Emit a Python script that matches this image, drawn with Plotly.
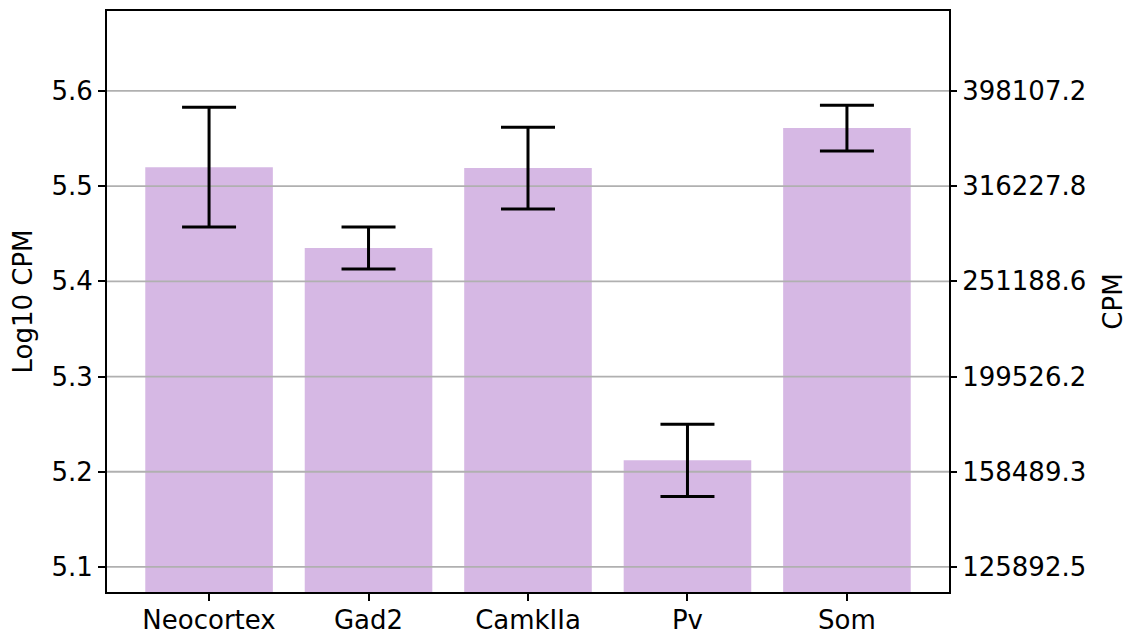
import plotly.graph_objects as go

# ---- data ----
categories = ["Neocortex", "Gad2", "CamkIIa", "Pv", "Som"]
log10_cpm = [5.520, 5.435, 5.519, 5.212, 5.561]
errors = [0.063, 0.022, 0.043, 0.038, 0.024]
y_ticks = [5.1, 5.2, 5.3, 5.4, 5.5, 5.6]
left_tick_labels = [f"{v:.1f}" for v in y_ticks]
cpm_tick_labels = [f"{10 ** v:.1f}" for v in y_ticks]

x_idx = list(range(len(categories)))
bar_w = 0.8
span = (len(categories) - 1) + bar_w
x_range = [-bar_w / 2 - 0.05 * span, (len(categories) - 1) + bar_w / 2 + 0.05 * span]
y_range = [5.0737, 5.684]

FONT = "DejaVu Sans"
FS = 26
BAR_COLOR = "#d6b8e4"
GRID_COLOR = "#b0b0b0"

fig = go.Figure()

# bars
fig.add_trace(go.Bar(
    x=x_idx, y=log10_cpm, width=bar_w,
    marker=dict(color=BAR_COLOR, line=dict(width=0)),
    hoverinfo="skip", showlegend=False,
    xaxis="x", yaxis="y",
))

# horizontal grid lines drawn above the bars (like matplotlib here)
gx, gy = [], []
for v in y_ticks:
    gx += [x_range[0], x_range[1], None]
    gy += [v, v, None]
fig.add_trace(go.Scatter(
    x=gx, y=gy, mode="lines",
    line=dict(color=GRID_COLOR, width=1.8),
    hoverinfo="skip", showlegend=False,
    xaxis="x", yaxis="y2",
))

# error bars on top of grid lines
fig.add_trace(go.Scatter(
    x=x_idx, y=log10_cpm, mode="markers",
    marker=dict(size=1, color="rgba(0,0,0,0)"),
    error_y=dict(type="data", array=errors, visible=True,
                 color="black", thickness=3, width=27),
    hoverinfo="skip", showlegend=False,
    xaxis="x", yaxis="y2",
))

axis_font = dict(family=FONT, size=FS, color="black")

# the page adds an 8px body margin, so the figure is sized/offset to compensate
fig.update_layout(
    width=1123, height=626,
    margin=dict(l=99, r=182, t=3, b=42, autoexpand=False),
    paper_bgcolor="white", plot_bgcolor="white",
    font=dict(family=FONT, size=FS, color="black"),
    showlegend=False,
    xaxis=dict(
        range=x_range, tickmode="array", tickvals=x_idx, ticktext=categories,
        showgrid=False, zeroline=False, automargin=False,
        showline=True, linecolor="black", linewidth=2, mirror=True,
        ticks="outside", ticklen=7, tickwidth=1.6, tickcolor="black",
        ticklabelstandoff=-3,
        tickfont=axis_font, fixedrange=True,
    ),
    yaxis=dict(
        range=y_range, tickmode="array", tickvals=y_ticks, ticktext=left_tick_labels,
        showgrid=False, zeroline=False, automargin=False,
        showline=True, linecolor="black", linewidth=2, mirror=True,
        ticks="outside", ticklen=7, tickwidth=1.6, tickcolor="black",
        tickfont=axis_font,
        title=dict(text="Log10 CPM", font=axis_font, standoff=12),
        fixedrange=True,
    ),
    yaxis2=dict(
        range=y_range, overlaying="y", side="right",
        tickmode="array", tickvals=y_ticks, ticktext=cpm_tick_labels,
        showgrid=False, zeroline=False, showline=False, automargin=False,
        ticks="outside", ticklen=7, tickwidth=1.6, tickcolor="black",
        tickfont=axis_font,
        title=dict(text="CPM", font=axis_font, standoff=18),
        fixedrange=True,
    ),
)

fig.write_html("out.html")
